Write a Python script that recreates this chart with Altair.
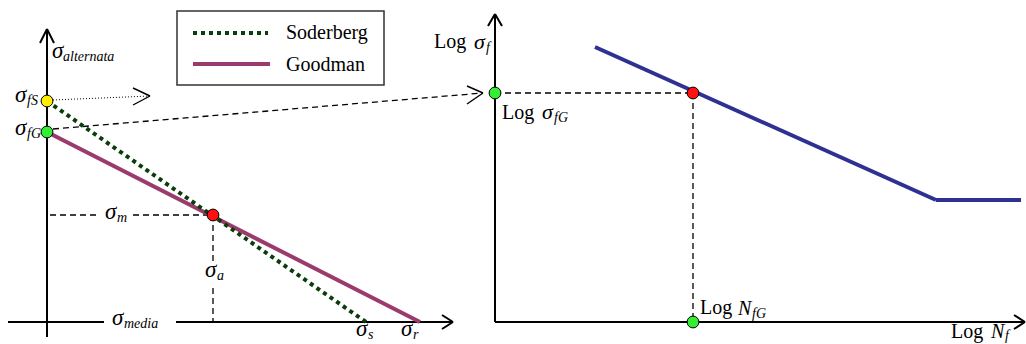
import altair as alt
import pandas as pd

W, H = 1026, 344
FONT = "'Liberation Serif', 'Times New Roman', serif"

# ---- geometry of the two diagrams (diagram units, y grows downward) ----
axis_x1 = [47, 8, 176, 40, 47, 442, 453, 495, 488, 495, 495, 1014, 1025]
axis_y1 = [29, 322, 322, 43, 29, 315, 322, 14, 26, 14, 322, 315, 322]
axis_x2 = [47, 104, 453, 47, 54, 453, 442, 495, 495, 502, 1025, 1025, 1014]
axis_y2 = [337, 322, 322, 29, 43, 322, 329, 322, 14, 26, 322, 322, 329]

# Goodman and Soderberg lines (chart + legend samples)
goodman_x1, goodman_y1, goodman_x2, goodman_y2 = [47, 193], [132, 64], [420, 270], [322, 64]
soder_x1, soder_y1, soder_x2, soder_y2 = [47, 193], [101, 33], [366, 268], [322, 33]

# S-N curve: sloped part then endurance plateau
sn_x1, sn_y1, sn_x2, sn_y2 = [595, 936], [47, 200], [936, 1021], [200, 200]

# dashed construction lines
dash_x1 = [50, 133, 213, 213, 495, 693, 53]
dash_y1 = [215, 215, 215, 288, 93, 93, 129]
dash_x2 = [100, 213, 213, 213, 693, 693, 483]
dash_y2 = [215, 215, 265, 322, 93, 322, 93]

# fine dotted arrow shaft
dot_x1, dot_y1, dot_x2, dot_y2 = [53], [100], [150], [96]

# open arrow heads (thin)
head_x1 = [467, 483, 133, 150]
head_y1 = [86, 93, 88, 96]
head_x2 = [483, 467, 150, 133]
head_y2 = [93, 104, 96, 105]

# marked points
pt_x = [47, 47, 213, 495, 693, 693]
pt_y = [101, 132, 215, 93, 93, 322]
pt_color = ["#FFEE00", "#33EE33", "#FF1111", "#33EE33", "#FF1111", "#33EE33"]

# legend frame
box_x1, box_y1, box_x2, box_y2 = [177], [11], [384], [85]

# labels
roman_txt = ["Soderberg", "Goodman", "Log", "Log", "Log", "Log"]
roman_x = [286, 286, 434, 502, 700, 951]
roman_y = [39, 71, 48, 119, 314, 338]

sym_txt = ["σ", "σ", "σ", "σ", "σ", "σ", "σ", "σ", "σ", "σ", "N", "N"]
sym_x = [52, 15, 15, 105, 205, 112, 356, 401, 474, 542, 738, 991]
sym_y = [58, 102, 135, 219, 277, 325, 336, 336, 49, 119, 315, 338]
sym_size = [23, 23, 23, 23, 23, 23, 23, 23, 22, 22, 20, 20]

sub_txt = ["alternata", "fS", "fG", "m", "a", "media", "s", "r", "f", "fG", "fG", "f"]
sub_x = [63, 27, 27, 117, 217, 124, 368, 413, 486, 554, 752, 1005]
sub_y = [61, 105, 138, 222, 280, 328, 339, 339, 52, 122, 318, 340]

xs = alt.Scale(domain=[0, W], nice=False, zero=False)
ys = alt.Scale(domain=[0, H], nice=False, zero=False, reverse=True)


def seg_layer(x1, y1, x2, y2, **mark):
    df = pd.DataFrame({"xa": x1, "ya": y1, "xb": x2, "yb": y2})
    return alt.Chart(df).mark_rule(**mark).encode(
        x=alt.X("xa:Q", scale=xs, axis=None),
        y=alt.Y("ya:Q", scale=ys, axis=None),
        x2="xb:Q",
        y2="yb:Q",
    )


def text_layer(txt, x, y, size, italic):
    df = pd.DataFrame({"t": txt, "x": x, "y": y, "s": size})
    return alt.Chart(df).mark_text(
        font=FONT, align="left", baseline="alphabetic", color="black",
        fontStyle="italic" if italic else "normal",
    ).encode(
        x=alt.X("x:Q", scale=xs, axis=None),
        y=alt.Y("y:Q", scale=ys, axis=None),
        text="t:N",
        size=alt.Size("s:Q", scale=None, legend=None),
    )


box = alt.Chart(pd.DataFrame({"xa": box_x1, "ya": box_y1, "xb": box_x2, "yb": box_y2})).mark_rect(
    fill="white", stroke="#333333", strokeWidth=1.5
).encode(
    x=alt.X("xa:Q", scale=xs, axis=None), y=alt.Y("ya:Q", scale=ys, axis=None),
    x2="xb:Q", y2="yb:Q",
)

axes = seg_layer(axis_x1, axis_y1, axis_x2, axis_y2, color="black", strokeWidth=2)
goodman = seg_layer(goodman_x1, goodman_y1, goodman_x2, goodman_y2,
                    color="#9B3A6C", strokeWidth=4)
soder = seg_layer(soder_x1, soder_y1, soder_x2, soder_y2,
                  color="#0B3D0B", strokeWidth=4, strokeDash=[4, 4])
sn = seg_layer(sn_x1, sn_y1, sn_x2, sn_y2, color="#2E3192", strokeWidth=4)
dashed = seg_layer(dash_x1, dash_y1, dash_x2, dash_y2,
                   color="black", strokeWidth=1.3, strokeDash=[6, 4])
dotted = seg_layer(dot_x1, dot_y1, dot_x2, dot_y2,
                   color="black", strokeWidth=1, strokeDash=[1, 2])
heads = seg_layer(head_x1, head_y1, head_x2, head_y2, color="black", strokeWidth=1.4)

points = alt.Chart(pd.DataFrame({"x": pt_x, "y": pt_y, "c": pt_color})).mark_point(
    filled=True, shape="circle", size=140, stroke="black", strokeWidth=1, opacity=1
).encode(
    x=alt.X("x:Q", scale=xs, axis=None),
    y=alt.Y("y:Q", scale=ys, axis=None),
    fill=alt.Fill("c:N", scale=None, legend=None),
)

chart = alt.layer(
    box, axes, dashed, dotted, heads, goodman, soder, sn, points,
    text_layer(roman_txt, roman_x, roman_y, [20] * len(roman_txt), False),
    text_layer(sym_txt, sym_x, sym_y, sym_size, True),
    text_layer(sub_txt, sub_x, sub_y, [14] * len(sub_txt), True),
).properties(
    width=W, height=H, autosize=alt.AutoSizeParams(type="none"), padding=0,
    background="white",
).configure_view(stroke=None)

chart.save("out.html", embed_options={"renderer": "svg", "actions": False})
